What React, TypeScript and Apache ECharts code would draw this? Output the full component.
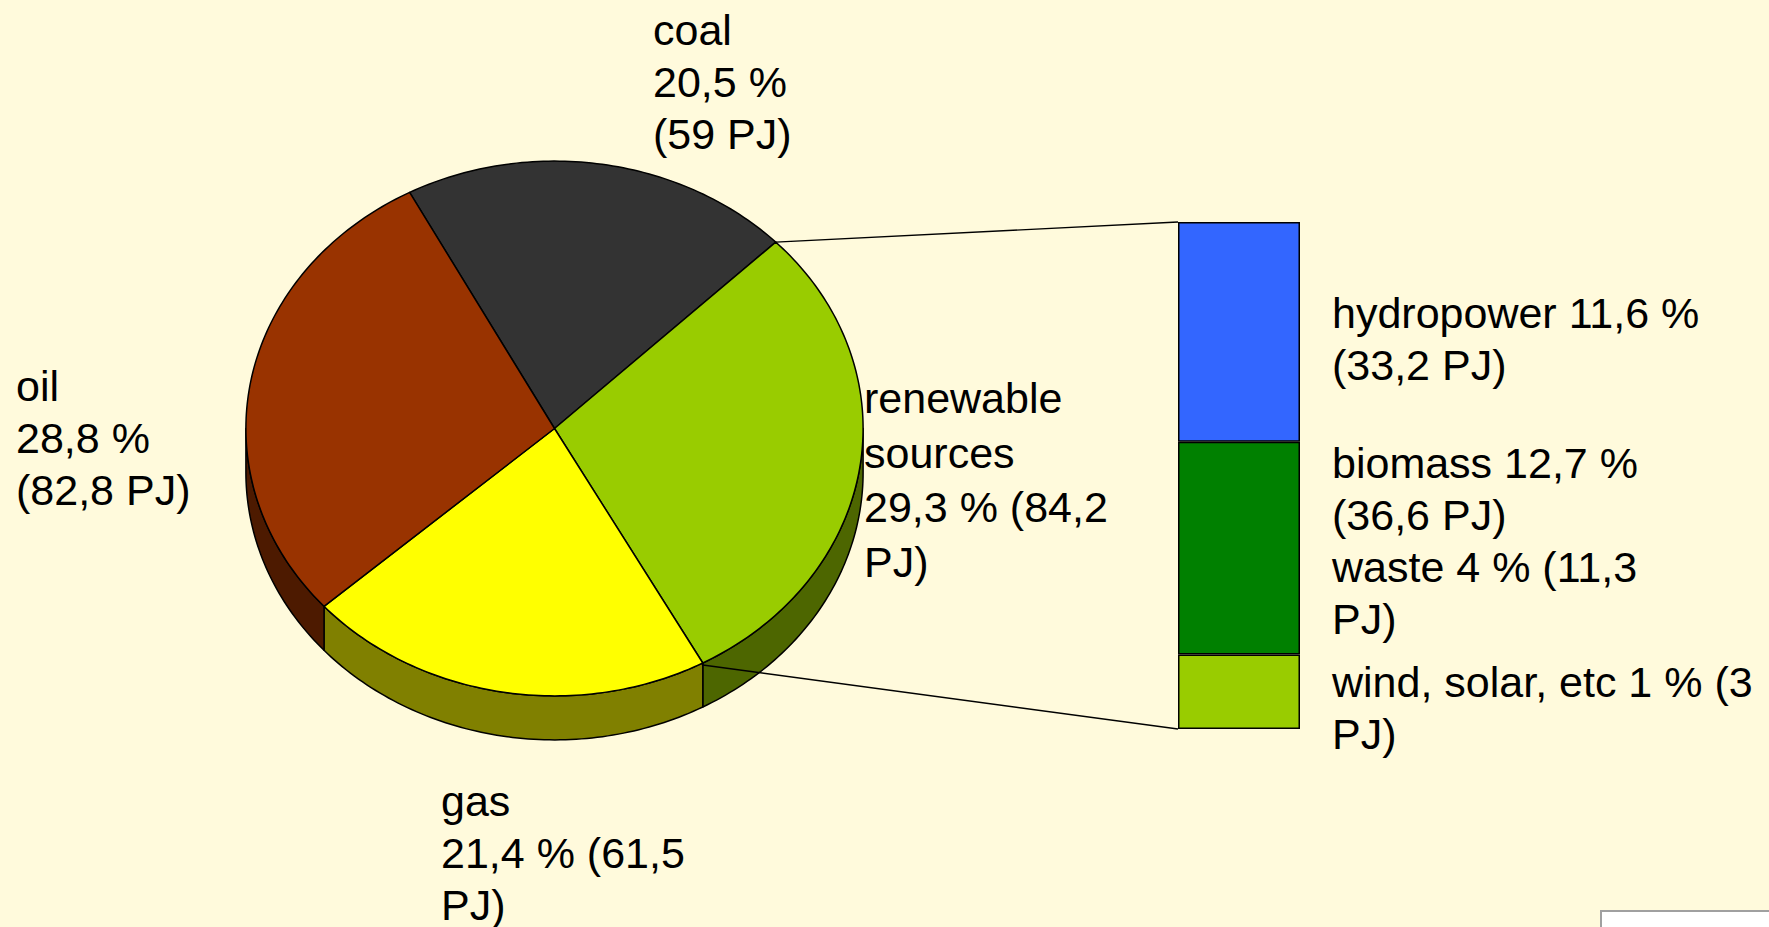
import React, { useEffect, useRef } from "react";
import * as echarts from "echarts";

// ---- data ----
const pieNames = ["coal", "renewable sources", "gas", "oil"];
const piePercent = [20.5, 29.3, 21.4, 28.8];
const piePJ = [59, 84.2, 61.5, 82.8];
const pieLabelText = [
  "coal\n20,5 %\n(59 PJ)",
  "renewable\nsources\n29,3 % (84,2\nPJ)",
  "gas\n21,4 % (61,5\nPJ)",
  "oil\n28,8 %\n(82,8 PJ)",
];

const barNames = ["wind, solar, etc", "biomass + waste", "hydropower"];
const barValues = [4.3, 12.3, 12.7];
const barLabelText = [
  "wind, solar, etc 1 % (3\nPJ)",
  "biomass 12,7 %\n(36,6 PJ)\nwaste 4 % (11,3\nPJ)",
  "hydropower 11,6 %\n(33,2 PJ)",
];

// ---- styles / layout ----
const BG = "#FFFADC";
const pieTopColors = ["#333333", "#99CC00", "#FFFF00", "#993300"];
const pieSideColors = ["#1A1A1A", "#4D6600", "#808000", "#4D1A00"];
const barColors = ["#99CC00", "#008000", "#3366FF"];
const FONT = "'Liberation Sans', Arial, Helvetica, sans-serif";

const CX = 554.5, CY = 428.5, RX = 308.6, RY = 267.4, DEPTH = 44;
const START = 332; // degrees clockwise from top
const BAR_W = 122;

const pieLabelPos = [
  [653, 4, 52],
  [864, 371, 54.5],
  [441, 775, 52],
  [16, 360, 52],
];
const barLabelPos = [
  [1332, 656, 52],
  [1332, 437, 52],
  [1332, 287, 52],
];

const pieTotal = piePercent.reduce((a, b) => a + b, 0);
const barTotal = barValues.reduce((a, b) => a + b, 0);

function pt(theta: number, dy: number): number[] {
  const r = (theta * Math.PI) / 180;
  return [CX + RX * Math.sin(r), CY - RY * Math.cos(r) + dy];
}
function arcPts(a: number, b: number, dy: number): number[][] {
  const n = Math.max(2, Math.ceil(Math.abs(b - a)));
  const out: number[][] = [];
  for (let k = 0; k <= n; k++) out.push(pt(a + ((b - a) * k) / n, dy));
  return out;
}
function sliceAngles(i: number): number[] {
  let cum = 0;
  for (let k = 0; k < i; k++) cum += piePercent[k];
  const a0 = START + (360 * cum) / pieTotal;
  const a1 = a0 + (360 * piePercent[i]) / pieTotal;
  return [a0, a1];
}

export default function App() {
  const ref = useRef<HTMLDivElement>(null);
  useEffect(() => {
    if (!ref.current) return;
    const chart = echarts.init(ref.current, undefined, { renderer: "svg" });

    const renderItem = (params: any, api: any) => {
      const i = params.dataIndex;
      const [a0, a1] = sliceAngles(i);
      const children: any[] = [];
      const ranges = [
        [-270, -90],
        [90, 270],
        [450, 630],
        [810, 990],
      ];
      for (const [lo, hi] of ranges) {
        const u = Math.max(a0, lo);
        const v = Math.min(a1, hi);
        if (v > u) {
          const pts = arcPts(u, v, 0).concat(arcPts(v, u, DEPTH));
          children.push({
            type: "polygon",
            shape: { points: pts },
            style: { fill: pieSideColors[i], stroke: "#000", lineWidth: 1.5, lineJoin: "round" },
          });
        }
      }
      const top = [[CX, CY]].concat(arcPts(a0, a1, 0));
      children.push({
        type: "polygon",
        shape: { points: top },
        style: { fill: pieTopColors[i], stroke: "#000", lineWidth: 1.5, lineJoin: "round" },
      });
      return { type: "group", children };
    };

    const option: any = {
      animation: false,
      backgroundColor: BG,
      grid: { left: 1178, top: 222, width: BAR_W, height: 507 },
      xAxis: { type: "category", data: ["renewable sources"], show: false },
      yAxis: { type: "value", min: 0, max: barTotal, show: false },
      series: [
        {
          type: "custom",
          coordinateSystem: "none",
          renderItem,
          data: piePercent.map((v, i) => ({ name: pieNames[i], value: [v, piePJ[i]] })),
          silent: true,
        },
        ...barValues.map((v, i) => ({
          type: "bar",
          name: barNames[i],
          stack: "renew",
          barWidth: BAR_W,
          data: [v],
          itemStyle: { color: barColors[i], borderColor: "#000", borderWidth: 1.5 },
          silent: true,
        })),
      ],
    };
    chart.setOption(option);

    const topPix = chart.convertToPixel({ xAxisIndex: 0, yAxisIndex: 0 }, [0, barTotal]) as number[];
    const botPix = chart.convertToPixel({ xAxisIndex: 0, yAxisIndex: 0 }, [0, 0]) as number[];
    const renewIdx = 1;
    const [r0, r1] = sliceAngles(renewIdx);
    const pTop = pt(r0, 0);
    const pBot = pt(r1, 0);

    const textEl = (txt: string, x: number, y: number, lh: number) => ({
      type: "text",
      x,
      y,
      z: 100,
      silent: true,
      style: {
        text: txt,
        fill: "#000",
        fontSize: 43,
        fontFamily: FONT,
        lineHeight: lh,
        align: "left",
        verticalAlign: "top",
      },
    });

    const graphic: any[] = [];
    pieLabelText.forEach((t, i) =>
      graphic.push(textEl(t, pieLabelPos[i][0], pieLabelPos[i][1], pieLabelPos[i][2]))
    );
    barLabelText.forEach((t, i) =>
      graphic.push(textEl(t, barLabelPos[i][0], barLabelPos[i][1], barLabelPos[i][2]))
    );
    graphic.push({
      type: "line",
      z: 100,
      silent: true,
      shape: { x1: pTop[0], y1: pTop[1], x2: topPix[0] - BAR_W / 2, y2: topPix[1] },
      style: { stroke: "#000", lineWidth: 1.4 },
    });
    graphic.push({
      type: "line",
      z: 100,
      silent: true,
      shape: { x1: pBot[0], y1: pBot[1] + 2, x2: botPix[0] - BAR_W / 2, y2: botPix[1] },
      style: { stroke: "#000", lineWidth: 1.4 },
    });
    graphic.push({
      type: "rect",
      z: 100,
      silent: true,
      shape: { x: 1601, y: 911, width: 200, height: 40 },
      style: { fill: "#FFFFFF", stroke: "#A0A0A0", lineWidth: 2 },
    });
    chart.setOption({ graphic });

    return () => chart.dispose();
  }, []);

  return (
    <div
      ref={ref}
      style={{ position: "fixed", left: 0, top: 0, width: 1769, height: 927, background: BG }}
    />
  );
}
